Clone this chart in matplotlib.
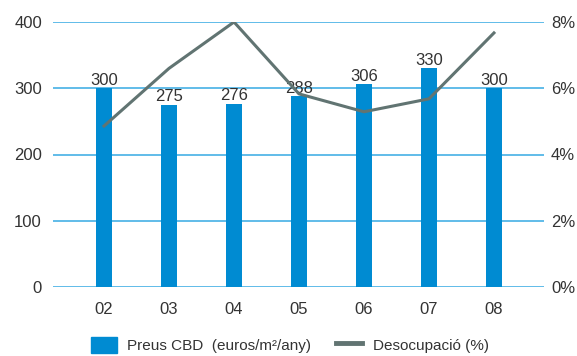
import matplotlib.pyplot as plt
from matplotlib.lines import Line2D
from matplotlib.patches import Patch

plt.rcParams['font.family'] = ['Liberation Sans', 'DejaVu Sans']

years = ['02', '03', '04', '05', '06', '07', '08']
preus = [300, 275, 276, 288, 306, 330, 300]
desocupacio = [4.86, 6.6, 8.0, 5.83, 5.29, 5.68, 7.67]

bar_color = '#008bd2'
grid_color = '#45b0e5'
line_color = '#617472'
text_color = '#333333'

fig = plt.figure(figsize=(5.77, 3.56), dpi=100)
ax = fig.add_axes([53 / 577, 1 - 287 / 356, 491 / 577, 265 / 356])
ax2 = ax.twinx()

x = list(range(len(years)))
ax.bar(x, preus, width=0.25, color=bar_color, zorder=2)
for xi, v in zip(x, preus):
    ax.text(xi, v + 1, str(v), ha='center', va='bottom', fontsize=12,
            color=text_color, zorder=4)

ax.set_ylim(0, 400)
ax.set_yticks([0, 100, 200, 300, 400])
ax.set_xlim(-0.785, 6.77)
ax.set_xticks(x)
ax.set_xticklabels(years)
ax.grid(axis='y', color=grid_color, linewidth=1.2, zorder=0)
ax.set_axisbelow(True)

ax2.plot(x, desocupacio, color=line_color, linewidth=2.2, zorder=3)
ax2.set_ylim(0, 8)
ax2.set_yticks([0, 2, 4, 6, 8])
ax2.set_yticklabels(['0%', '2%', '4%', '6%', '8%'])

for a in (ax, ax2):
    for s in a.spines.values():
        s.set_visible(False)
    a.tick_params(length=0, labelsize=12, colors=text_color)
ax.tick_params(axis='x', pad=11)
ax.tick_params(axis='y', pad=8)
ax2.tick_params(axis='y', pad=5)

handles = [Patch(color=bar_color),
           Line2D([0], [0], color=line_color, linewidth=3.5)]
labels = ['Preus CBD  (euros/m²/any)', 'Desocupació (%)']
fig.legend(handles, labels, loc='center', bbox_to_anchor=(0.502, 0.031),
           ncol=2, frameon=False, fontsize=11, handlelength=1.7,
           handleheight=1.2, handletextpad=0.7, columnspacing=1.6,
           labelcolor=text_color, borderpad=0)

fig.savefig('out.png', dpi=100)
